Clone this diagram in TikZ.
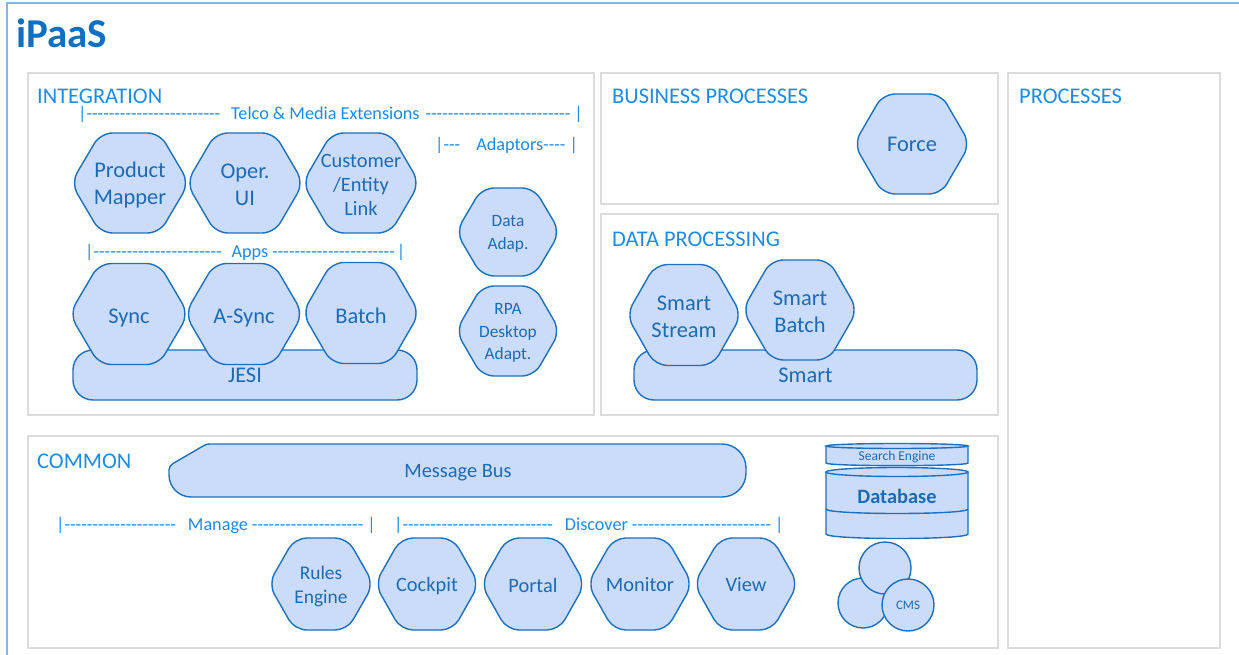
\documentclass[tikz,border=0pt]{standalone}
\usepackage{fontspec}
\setmainfont{Carlito}
\ExplSyntaxOn
% a run of hyphens that never merges into dashes
\NewDocumentCommand\hy{m}{\prg_replicate:nn{#1}{-\kern0pt}}
\ExplSyntaxOff
\definecolor{hexfill}{HTML}{CADCF9}
\definecolor{hexline}{HTML}{1C70BD}
\definecolor{hextext}{HTML}{1C6BB4}
\definecolor{headblue}{HTML}{1E8BE4}
\definecolor{titleblue}{HTML}{0F6FC0}
\definecolor{panelgray}{HTML}{DCDCDC}
\definecolor{frameblue}{HTML}{86B5DD}
\newcommand\hxA{\fontsize{22.4}{27}\selectfont}
\newcommand\hxB{\fontsize{20.4}{24}\selectfont}
\newcommand\hxC{\fontsize{17.3}{22.5}\selectfont}
\newcommand\hxD{\fontsize{19.4}{24}\selectfont}
\newcommand\hxH{\fontsize{22.4}{26}\selectfont}
\newcommand\hxS{\fontsize{18.2}{22}\selectfont}
% hexagon: name, centre x, centre y, width, height, label options, text
\newcommand\hexa[7]{%
  \path[hexbody] ({#2-#4/2},#3) -- ({#2-#4/4},{#3-#5/2}) -- ({#2+#4/4},{#3-#5/2})
    -- ({#2+#4/2},#3) -- ({#2+#4/4},{#3+#5/2}) -- ({#2-#4/4},{#3+#5/2}) -- cycle;
  \node[hexlabel,font=#6] (#1) at (#2,#3) {#7};}
\begin{document}
\begin{tikzpicture}[x=1pt,y=-1pt,
  panel/.style={draw=panelgray,line width=1.3pt},
  head/.style={text=headblue,font=\hxH,anchor=base west,inner sep=0pt},
  hexbody/.style={fill=hexfill,draw=hexline,line width=1.4pt,rounded corners=12pt},
  hexlabel/.style={text=hextext,align=center,inner sep=0pt,yshift=-2pt},
  barbox/.style={fill=hexfill,draw=hexline,line width=1.4pt,rounded corners=20pt,
    inner sep=0pt,text=hextext,font=\hxA},
  brk/.style={text=headblue,font=\hxS,anchor=base west,inner sep=0pt},
  blob/.style={circle,fill=hexfill,draw=hexline,line width=1.4pt,inner sep=0pt,text=hextext}]
\useasboundingbox (0,0) rectangle (1239,655);
\fill[white] (0,0) rectangle (1239,655);

% outer frame (open to the right and bottom)
\draw[frameblue,line width=1.5pt] (7,655) -- (7,3) -- (1239,3);
\node[anchor=base west,inner sep=0pt,text=titleblue,font=\fontsize{41}{44}\selectfont\bfseries] (title) at (16,48) {iPaaS};

% panels
\draw[panel] (28,73) rectangle (594,415);
\draw[panel] (601,73) rectangle (998,204);
\draw[panel] (601,214) rectangle (998,415);
\draw[panel] (1008,73) rectangle (1220,648);
\draw[panel] (28,436) rectangle (998,648);
\node[head] (hint) at (37,103.5) {INTEGRATION};
\node[head] (hbus) at (612,104) {BUSINESS PROCESSES};
\node[head] (hdata) at (612,246) {DATA PROCESSING};
\node[head] (hproc) at (1019,104) {PROCESSES};
\node[head] (hcom) at (37,468) {COMMON};

% integration
\node[brk] (telco) at (78,120) {|\hy{24}\hspace{11pt}Telco \& Media Extensions\hspace{6pt}\hy{26}\hspace{4pt}|};
\node[brk] (adapt) at (435,151) {|\hy{3}\hspace{16pt}Adaptors\hy{4}\hspace{4pt}|};
\node[brk] (apps) at (85,257) {|\hy{23}\hspace{10pt}Apps\hspace{4pt}\hy{22}\hspace{2pt}|};
\hexa{pm}{130}{183}{118}{100}{\hxA}{Product\\Mapper}
\hexa{ou}{245}{183}{117}{100}{\hxA}{Oper.\\UI}
\hexa{ce}{361}{183}{117}{100}{\hxB}{Customer\\/Entity\\Link}
\node[barbox,minimum width=344pt,minimum height=50pt] (jesi) at (245,375) {\raisebox{-3pt}{JESI}};
\hexa{sync}{129}{314}{119}{101}{\hxA,yshift=-2pt}{Sync}
\hexa{async}{244}{314}{118}{101}{\hxA,yshift=-2pt}{A-Sync}
\hexa{batch}{361}{313}{117}{101}{\hxA,yshift=-1pt}{Batch}
\hexa{dada}{508}{232}{104}{88}{\hxC}{Data\\Adap.}
\hexa{rpa}{508}{331}{104}{90}{\hxC}{RPA\\Desktop\\Adapt.}

% business processes
\hexa{force}{912}{144}{116}{100}{\hxA,yshift=2pt}{Force}

% data processing
\node[barbox,minimum width=343pt,minimum height=50pt] (smart) at (805.5,375) {\raisebox{-3pt}{Smart}};
\hexa{sstream}{684}{315}{115}{101}{\hxA}{Smart\\Stream}
\hexa{sbatch}{800}{310}{115}{100}{\hxA}{Smart\\Batch}

% common
\path[fill=hexfill,draw=hexline,line width=1.4pt]
  (210,444) -- (722,444) .. controls (735.3,444) and (746,454.7) .. (746,468)
  -- (746,473) .. controls (746,486.3) and (735.3,497) .. (722,497)
  -- (191,497) .. controls (178.9,497) and (169,487.1) .. (169,475)
  -- (169,470) .. controls (169,467) and (170.5,465.5) .. (173,463.5)
  -- (204,445.5) .. controls (206,444.3) and (207.5,444) .. (210,444) -- cycle;
\node[hexlabel,font=\hxB] (mbus) at (458,471) {Message Bus};
\node[brk] (manage) at (56,530) {|\hy{20}\hspace{12pt}Manage\hspace{4pt}\hy{20}\hspace{4pt}|};
\node[brk] (discover) at (394,530) {|\hy{27}\hspace{12pt}Discover\hspace{4pt}\hy{25}\hspace{4pt}|};
\hexa{rules}{321}{584}{105}{92}{\hxD}{Rules\\Engine}
\hexa{cockpit}{427}{584}{104}{92}{\hxB}{Cockpit}
\hexa{portal}{533}{584}{104}{92}{\hxB,yshift=1pt}{Portal}
\hexa{monitor}{640}{584}{105}{92}{\hxB,yshift=1pt}{Monitor}
\hexa{view}{746}{584}{104}{92}{\hxB,yshift=1pt}{View}

% storage stack
\path[fill=hexfill,draw=hexline,line width=1.4pt]
  (826,446) -- (826,463) .. controls (826,466.5) and (968,466.5) .. (968,463) -- (968,446);
\path[fill=hexfill,draw=hexline,line width=1.4pt] (897,446) ellipse[x radius=71,y radius=2.5];
\node[hexlabel,yshift=1pt,font=\fontsize{13.5}{16}\selectfont] (search) at (897,456) {Search Engine};
\path[fill=hexfill,draw=hexline,line width=1.4pt]
  (826,472) -- (826,534) .. controls (826,540) and (968,540) .. (968,534) -- (968,472);
\path[fill=hexfill,draw=hexline,line width=1.4pt] (897,472) ellipse[x radius=71,y radius=4.5];
\draw[hexline,line width=1.4pt] (826,509) .. controls (826,515) and (968,515) .. (968,509);
\node[hexlabel,yshift=2pt,font=\fontsize{20.4}{24}\selectfont\bfseries] (db) at (897,496) {Database};

% content store
\node[blob,minimum size=50pt] (cleft) at (863,603) {};
\node[blob,minimum size=52pt] (ctop) at (885,568) {};
\node[blob,minimum size=52pt,font=\fontsize{13}{15}\selectfont] (cms) at (908,605) {CMS};
\end{tikzpicture}
\end{document}
